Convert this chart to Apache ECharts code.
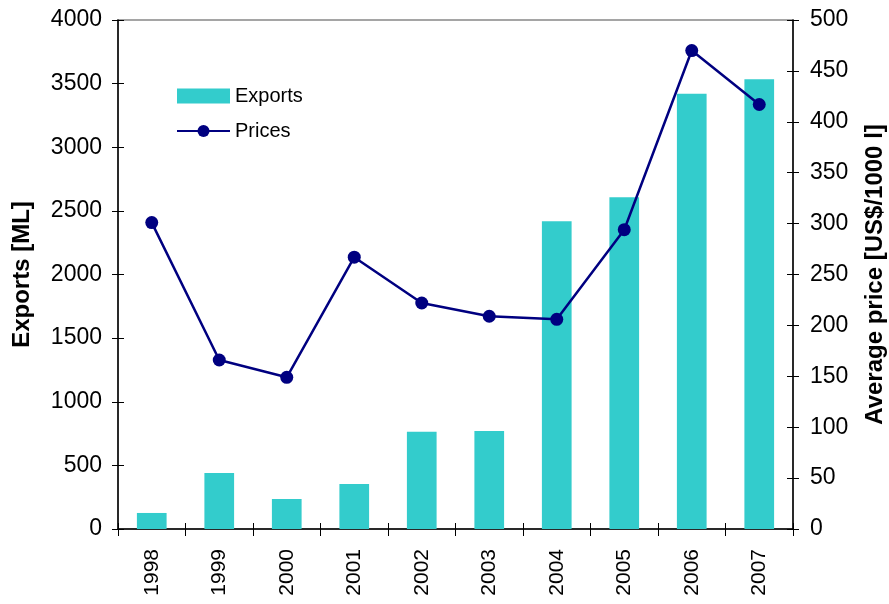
<!DOCTYPE html>
<html>
<head>
<meta charset="utf-8">
<script src="https://cdn.jsdelivr.net/npm/echarts@6/dist/echarts.min.js"></script>
<style>
  html, body { margin: 0; padding: 0; background: #fff; }
  #chart { width: 889px; height: 604px; }
</style>
</head>
<body>
<div id="chart"></div>
<script>
// Yearly export volumes (ML) and average export prices (US$/1000 l)
const years = ['1998', '1999', '2000', '2001', '2002', '2003', '2004', '2005', '2006', '2007'];
const exportsML = [126, 440, 236, 353, 765, 770, 2419, 2607, 3421, 3534];
const pricesUSD = [301, 166, 149, 267, 222, 209, 206, 294, 470, 417];

const FONT = '"Liberation Sans", Arial, sans-serif';
const axisLineStyle = { color: '#000', width: 1.5 };
const tickStyle = { color: '#000', width: 1 };
const plain = v => String(v);

const chart = echarts.init(document.getElementById('chart'), null, { renderer: 'canvas' });

// Tick marks cross their axis line: one axis draws the outer half,
// a label-less twin draws the inner half.
chart.setOption({
  animation: false,
  backgroundColor: '#fff',
  textStyle: { fontFamily: FONT, color: '#000' },
  grid: {
    left: 118, right: 96, top: 20, bottom: 75,
    outerBoundsMode: 'none',
    containLabel: false,
    show: true, borderColor: '#888', borderWidth: 1.5, backgroundColor: 'transparent'
  },
  legend: {
    orient: 'vertical',
    left: 176, top: 86,
    padding: 0,
    itemWidth: 53, itemHeight: 15, itemGap: 15,
    textStyle: { fontFamily: FONT, fontSize: 20, color: '#000' },
    data: [
      { name: 'Exports', icon: 'rect', itemStyle: { color: '#33CCCC' } },
      { name: 'Prices' }
    ]
  },
  xAxis: [
    {
      type: 'category',
      data: years,
      axisLine: { lineStyle: axisLineStyle },
      axisTick: { show: true, length: 7, lineStyle: tickStyle },
      axisLabel: { rotate: 90, fontSize: 21, color: '#000', fontFamily: FONT, margin: 20 },
      splitLine: { show: false }
    },
    {
      type: 'category',
      data: years,
      position: 'bottom',
      axisLine: { show: false },
      axisTick: { show: true, inside: true, length: 6, lineStyle: tickStyle },
      axisLabel: { show: false },
      splitLine: { show: false }
    }
  ],
  yAxis: [
    {
      type: 'value',
      min: 0, max: 4000, interval: 500,
      name: 'Exports [ML]',
      nameLocation: 'middle',
      nameGap: 84,
      nameRotate: 90,
      nameTextStyle: { fontFamily: FONT, fontSize: 24, fontWeight: 'bold', color: '#000' },
      axisLine: { show: true, lineStyle: axisLineStyle },
      axisTick: { show: true, length: 6, lineStyle: tickStyle },
      axisLabel: { fontSize: 23, color: '#000', fontFamily: FONT, margin: 16, formatter: plain },
      splitLine: { show: false }
    },
    {
      type: 'value',
      min: 0, max: 500, interval: 50,
      position: 'right',
      name: 'Average price [US$/1000 l]',
      nameLocation: 'middle',
      nameGap: 70,
      nameRotate: 90,
      nameTextStyle: { fontFamily: FONT, fontSize: 24, fontWeight: 'bold', color: '#000' },
      axisLine: { show: true, lineStyle: axisLineStyle },
      axisTick: { show: true, length: 6, lineStyle: tickStyle },
      axisLabel: { fontSize: 23, color: '#000', fontFamily: FONT, margin: 17, formatter: plain },
      splitLine: { show: false }
    },
    {
      type: 'value',
      min: 0, max: 4000, interval: 500,
      position: 'left',
      axisLine: { show: false },
      axisTick: { show: true, inside: true, length: 6, lineStyle: tickStyle },
      axisLabel: { show: false },
      splitLine: { show: false }
    },
    {
      type: 'value',
      min: 0, max: 500, interval: 50,
      position: 'right',
      axisLine: { show: false },
      axisTick: { show: true, inside: true, length: 6, lineStyle: tickStyle },
      axisLabel: { show: false },
      splitLine: { show: false }
    }
  ],
  series: [
    {
      name: 'Exports',
      type: 'bar',
      xAxisIndex: 0,
      yAxisIndex: 0,
      data: exportsML,
      barWidth: '44%',
      itemStyle: { color: '#33CCCC' }
    },
    {
      name: 'Prices',
      type: 'line',
      xAxisIndex: 0,
      yAxisIndex: 1,
      data: pricesUSD,
      symbol: 'circle',
      symbolSize: 13,
      lineStyle: { color: '#000080', width: 2.5 },
      itemStyle: { color: '#000080' }
    }
  ]
});
</script>
</body>
</html>
